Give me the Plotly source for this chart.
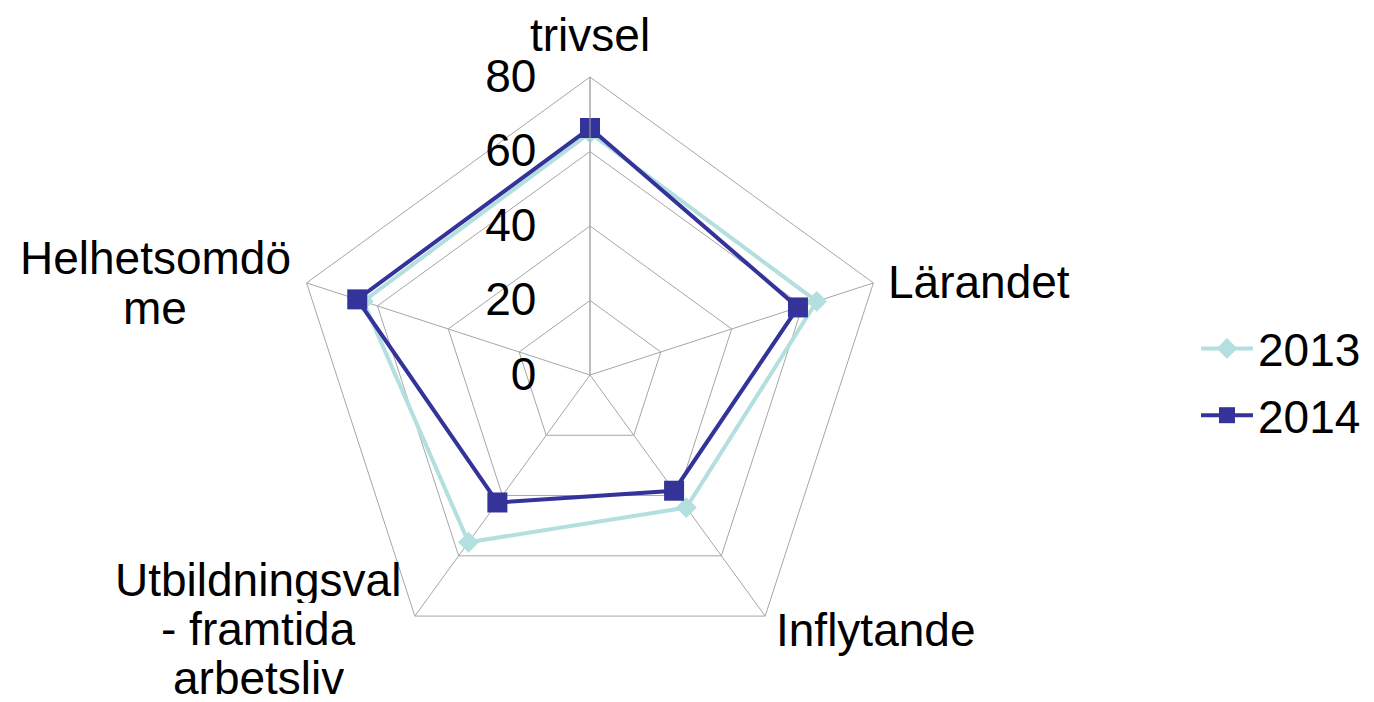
import plotly.graph_objects as go

categories = ["trivsel", "Lärandet", "Inflytande", "Utbildningsval - framtida arbetsliv", "Helhetsomdöme"]
values_2013 = [65, 64, 44, 55.5, 64]
values_2014 = [66.3, 58.7, 38.4, 42.3, 65.7]
radial_ticks = [0, 20, 40, 60, 80]

W, H = 1374, 702
CX, CY, R = 590, 375, 298
FONT = "Liberation Sans, Arial, sans-serif"
FS = 46
GRID = "#a6a6a6"

def px(x):
    return x / W

def py(y):
    return 1 - y / H

theta = categories + [categories[0]]

fig = go.Figure()
fig.add_trace(go.Scatterpolar(
    r=values_2013 + [values_2013[0]], theta=theta, name="2013",
    mode="lines+markers", legendgroup="a",
    line=dict(color="#b3dfdf", width=4),
    marker=dict(symbol="diamond", size=16, color="#b3dfdf"),
))
fig.add_trace(go.Scatterpolar(
    r=values_2014 + [values_2014[0]], theta=theta, name="2014",
    mode="lines+markers", legendgroup="b",
    line=dict(color="#333399", width=4),
    marker=dict(symbol="square", size=20, color="#333399"),
))

fig.update_layout(
    width=W, height=H,
    margin=dict(l=0, r=0, t=0, b=0),
    paper_bgcolor="white",
    font=dict(family=FONT, size=FS, color="black"),
    polar=dict(
        domain=dict(x=[px(CX - R), px(CX + R)], y=[py(CY + R), py(CY - R)]),
        bgcolor="white",
        gridshape="linear",
        radialaxis=dict(
            range=[0, 80], tickvals=radial_ticks, ticktext=[str(v) for v in radial_ticks],
            angle=90, tickangle=90, side="counterclockwise",
            showline=True, linecolor=GRID, linewidth=1,
            gridcolor=GRID, gridwidth=1,
            ticks="outside", ticklen=37, tickcolor="rgba(0,0,0,0)",
            tickfont=dict(family=FONT, size=FS, color="black"),
        ),
        angularaxis=dict(
            rotation=90, direction="clockwise",
            showline=True, linecolor=GRID, linewidth=1,
            gridcolor=GRID, gridwidth=1,
            showticklabels=False, ticks="",
        ),
    ),
    legend=dict(
        x=px(1196), y=py(382), xanchor="left", yanchor="middle",
        font=dict(family=FONT, size=FS, color="black"),
        traceorder="grouped", tracegroupgap=4,
        itemwidth=52,
        bgcolor="rgba(0,0,0,0)",
    ),
    showlegend=True,
)

# (text, x px, y px, anchor, box height or None)
labels = [
    ("trivsel", 590, 35, "center", None),
    ("Lärandet", 886, 282, "left", None),
    ("Inflytande", 774, 630, "left", None),
    ("Utbildningsval", 258, 579, "center", 47),
    ("- framtida", 258, 628, "center", 47),
    ("arbetsliv", 258, 677, "center", 47),
    ("Helhetsomdö", 155, 258, "center", 48),
    ("me", 155, 308, "center", 48),
]
for text, x, y, anchor, hgt in labels:
    kw = {}
    if hgt:
        kw["height"] = hgt
    fig.add_annotation(
        text=text, x=px(x), y=py(y), xref="paper", yref="paper",
        xanchor=anchor, yanchor="middle", showarrow=False, valign="middle",
        font=dict(family=FONT, size=FS, color="black"), **kw,
    )

fig.write_html("out.html", config={"displayModeBar": False},
               post_script="document.body.style.margin='0';")
